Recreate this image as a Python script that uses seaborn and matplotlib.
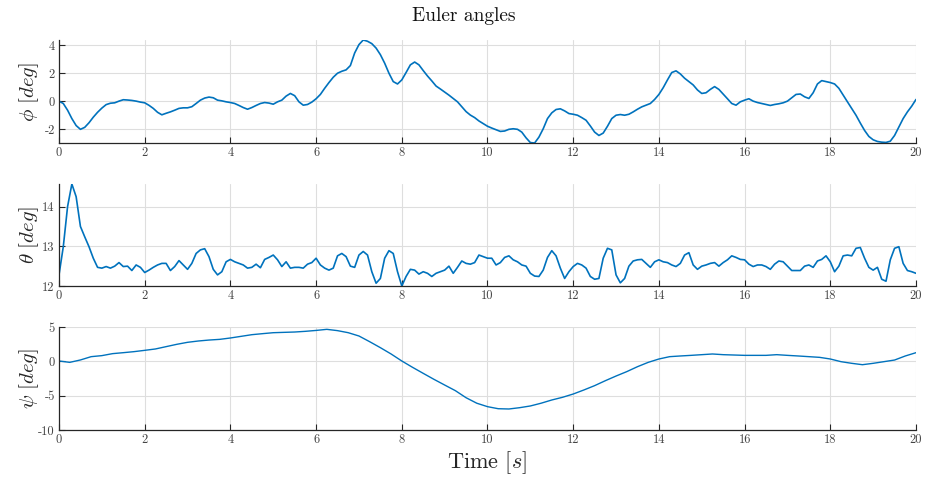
import numpy as np
import pandas as pd
import matplotlib
matplotlib.use("Agg")
import matplotlib.pyplot as plt
import seaborn as sns
from matplotlib.ticker import FixedLocator

# ---------------- data ----------------
t_fine = np.round(np.linspace(0, 20, 201), 2)   # sample times for phi / theta (0.1 s)
t_psi = np.round(np.linspace(0, 20, 81), 2)     # sample times for psi (0.25 s)

phi = [0, -0.17, -0.65, -1.25, -1.75, -2.02, -1.88, -1.55, -1.15, -0.8,
       -0.5, -0.25, -0.15, -0.12, 0.0, 0.1, 0.08, 0.05, 0.0, -0.07,
       -0.12, -0.3, -0.52, -0.8, -0.98, -0.87, -0.77, -0.65, -0.52, -0.48,
       -0.48, -0.4, -0.17, 0.07, 0.22, 0.29, 0.24, 0.07, 0.02, -0.05,
       -0.1, -0.17, -0.31, -0.46, -0.58, -0.46, -0.31, -0.17, -0.1, -0.14,
       -0.22, -0.05, 0.07, 0.36, 0.55, 0.39, -0.05, -0.29, -0.24, -0.07,
       0.17, 0.48, 0.92, 1.33, 1.71, 2.0, 2.14, 2.24, 2.55, 3.45,
       4.05, 4.38, 4.29, 4.12, 3.8, 3.33, 2.72, 2.0, 1.4, 1.23,
       1.52, 2.05, 2.6, 2.8, 2.6, 2.19, 1.8, 1.45, 1.08, 0.87,
       0.65, 0.43, 0.19, -0.05, -0.4, -0.75, -1.0, -1.18, -1.42, -1.61,
       -1.8, -1.93, -2.05, -2.17, -2.14, -2.02, -1.98, -2.02, -2.22, -2.63,
       -2.97, -3.0, -2.58, -1.98, -1.25, -0.84, -0.6, -0.55, -0.7, -0.89,
       -0.94, -1.01, -1.18, -1.37, -1.78, -2.22, -2.46, -2.29, -1.8, -1.25,
       -1.01, -0.96, -1.01, -0.94, -0.77, -0.58, -0.41, -0.29, -0.17, 0.12,
       0.48, 0.96, 1.52, 2.05, 2.17, 1.95, 1.64, 1.4, 1.16, 0.8,
       0.55, 0.6, 0.84, 1.04, 0.84, 0.51, 0.17, -0.17, -0.29, -0.05,
       0.07, 0.17, 0.0, -0.1, -0.17, -0.24, -0.31, -0.24, -0.19, -0.12,
       0.0, 0.24, 0.48, 0.51, 0.31, 0.19, 0.6, 1.23, 1.47, 1.4,
       1.33, 1.23, 0.92, 0.43, -0.05, -0.53, -1.01, -1.57, -2.1, -2.53,
       -2.77, -2.89, -2.94, -2.96, -2.87, -2.46, -1.86, -1.25, -0.77, -0.36,
       0.12]

theta = [12.28, 12.99, 14.0, 14.57, 14.25, 13.5, 13.24, 12.99, 12.7, 12.47,
         12.45, 12.49, 12.45, 12.5, 12.59, 12.49, 12.5, 12.39, 12.53, 12.47,
         12.34, 12.4, 12.47, 12.53, 12.57, 12.57, 12.39, 12.49, 12.64, 12.53,
         12.42, 12.57, 12.82, 12.91, 12.94, 12.74, 12.42, 12.28, 12.36, 12.61,
         12.67, 12.61, 12.57, 12.53, 12.45, 12.47, 12.55, 12.46, 12.67, 12.72,
         12.78, 12.66, 12.49, 12.61, 12.45, 12.47, 12.47, 12.45, 12.55, 12.59,
         12.7, 12.53, 12.45, 12.4, 12.45, 12.76, 12.82, 12.74, 12.5, 12.47,
         12.78, 12.87, 12.78, 12.36, 12.07, 12.19, 12.7, 12.89, 12.82, 12.36,
         12.0, 12.24, 12.42, 12.4, 12.3, 12.36, 12.32, 12.24, 12.32, 12.36,
         12.4, 12.5, 12.32, 12.47, 12.63, 12.57, 12.55, 12.59, 12.78, 12.74,
         12.7, 12.7, 12.53, 12.59, 12.72, 12.76, 12.66, 12.61, 12.53, 12.5,
         12.32, 12.25, 12.24, 12.4, 12.72, 12.89, 12.76, 12.45, 12.19, 12.36,
         12.49, 12.57, 12.53, 12.45, 12.24, 12.17, 12.19, 12.7, 12.95, 12.91,
         12.28, 12.08, 12.19, 12.5, 12.63, 12.66, 12.67, 12.57, 12.47, 12.61,
         12.66, 12.61, 12.59, 12.53, 12.49, 12.57, 12.78, 12.84, 12.53, 12.42,
         12.5, 12.53, 12.57, 12.59, 12.5, 12.59, 12.66, 12.76, 12.72, 12.67,
         12.66, 12.55, 12.49, 12.53, 12.53, 12.49, 12.42, 12.55, 12.63, 12.61,
         12.5, 12.39, 12.39, 12.39, 12.5, 12.53, 12.47, 12.63, 12.67, 12.76,
         12.61, 12.36, 12.5, 12.76, 12.78, 12.76, 12.95, 12.97, 12.7, 12.47,
         12.4, 12.47, 12.17, 12.12, 12.66, 12.95, 12.99, 12.57, 12.39, 12.36,
         12.32]

psi = [0.05, -0.15, 0.2, 0.68, 0.83, 1.12, 1.26, 1.41, 1.6, 1.8,
       2.14, 2.48, 2.77, 2.96, 3.1, 3.2, 3.4, 3.64, 3.88, 4.03,
       4.17, 4.22, 4.27, 4.37, 4.5, 4.66, 4.47, 4.17, 3.69, 2.86,
       1.99, 1.07, 0.05, -0.87, -1.75, -2.62, -3.45, -4.27, -5.3, -6.1,
       -6.6, -6.9, -6.94, -6.75, -6.5, -6.1, -5.63, -5.24, -4.76, -4.17,
       -3.54, -2.82, -2.14, -1.5, -0.78, -0.15, 0.34, 0.68, 0.78, 0.87,
       0.97, 1.07, 0.97, 0.92, 0.87, 0.87, 0.87, 0.97, 0.87, 0.78,
       0.68, 0.58, 0.34, -0.05, -0.29, -0.49, -0.29, -0.05, 0.19, 0.78,
       1.26]

x_ticks = [0, 2, 4, 6, 8, 10, 12, 14, 16, 18, 20]
phi_ticks = [-2, 0, 2, 4]
theta_ticks = [12, 13, 14]
psi_ticks = [-10, -5, 0, 5]
psi_limits = [-10, 5]

title_text = "Euler angles"
xlabel_text = r"Time $[s]$"
ylabels = [r"$\phi\ [deg]$", r"$\theta\ [deg]$", r"$\psi\ [deg]$"]

# ---------------- style ----------------
sns.set_theme(style="white")
plt.rcParams["font.family"] = ["cmr10", "DejaVu Serif"]
plt.rcParams["mathtext.fontset"] = "cm"
plt.rcParams["axes.unicode_minus"] = False
plt.rcParams["axes.formatter.use_mathtext"] = True

line_color = "#0072BD"
axis_color = "#262626"
grid_color = "#dedede"

fig = plt.figure(figsize=(9.28, 4.82), dpi=100)
L, W = 59 / 928, 857 / 928
boxes = [(1 - 143 / 482, 103 / 482), (1 - 286 / 482, 102 / 482), (1 - 430 / 482, 103 / 482)]
axes = [fig.add_axes([L, b, W, h]) for b, h in boxes]

df_fine = pd.DataFrame({"t": t_fine, "phi": phi, "theta": theta})
df_psi = pd.DataFrame({"t": t_psi, "psi": psi})

sns.lineplot(data=df_fine, x="t", y="phi", ax=axes[0], color=line_color, linewidth=1.2)
sns.lineplot(data=df_fine, x="t", y="theta", ax=axes[1], color=line_color, linewidth=1.2)
sns.lineplot(data=df_psi, x="t", y="psi", ax=axes[2], color=line_color, linewidth=1.0)

axes[0].set_ylim(min(phi), max(phi))
axes[1].set_ylim(min(theta), max(theta))
axes[2].set_ylim(*psi_limits)
yt = [phi_ticks, theta_ticks, psi_ticks]

for ax, ticks, lab in zip(axes, yt, ylabels):
    ax.set_xlim(0, 20)
    ax.xaxis.set_major_locator(FixedLocator(x_ticks))
    ax.yaxis.set_major_locator(FixedLocator(ticks))
    ax.set_xticklabels([f"{v:g}" for v in x_ticks])
    ax.set_yticklabels([f"{v:g}" for v in ticks])
    ax.grid(True, color=grid_color, linewidth=0.8)
    ax.set_axisbelow(True)
    for s in ["top", "right"]:
        ax.spines[s].set_visible(False)
    for s in ["left", "bottom"]:
        ax.spines[s].set_color(axis_color)
        ax.spines[s].set_linewidth(0.9)
    ax.tick_params(axis="both", direction="in", length=4, width=0.8,
                   colors=axis_color, labelcolor="#444444", labelsize=9,
                   bottom=True, left=True, top=False, right=False, pad=3)
    ax.set_xlabel("")
    ax.set_ylabel(lab, fontsize=15, color=axis_color)
    ax.yaxis.set_label_coords(-0.021, 0.5)

axes[2].set_xlabel(xlabel_text, fontsize=16, color=axis_color, labelpad=2)
fig.suptitle(title_text, fontsize=14, color="#111111", x=0.5, y=0.985, va="top")

fig.savefig("out.png", dpi=100)
